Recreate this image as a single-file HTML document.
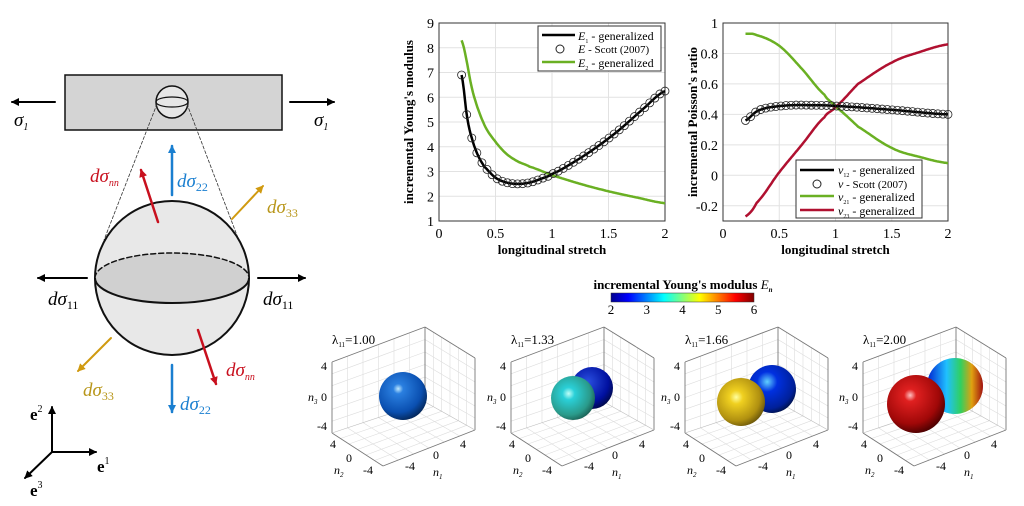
<!DOCTYPE html>
<html><head><meta charset="utf-8"><style>
body{margin:0;background:#fff}
svg{display:block;font-family:"Liberation Serif",serif}
</style></head><body>
<svg id="s" width="1024" height="506" viewBox="0 0 1024 506" xmlns="http://www.w3.org/2000/svg">
<defs>
<marker id="ak" markerWidth="8" markerHeight="8" refX="7" refY="4" orient="auto" markerUnits="userSpaceOnUse"><path d="M0,0 L8,4 L0,8 z" fill="#000"/></marker>
<marker id="ab" markerWidth="8" markerHeight="8" refX="7" refY="4" orient="auto" markerUnits="userSpaceOnUse"><path d="M0,0 L8,4 L0,8 z" fill="#1a7fd0"/></marker>
<marker id="ar" markerWidth="8" markerHeight="8" refX="7" refY="4" orient="auto" markerUnits="userSpaceOnUse"><path d="M0,0 L8,4 L0,8 z" fill="#c8101e"/></marker>
<marker id="ay" markerWidth="8" markerHeight="8" refX="7" refY="4" orient="auto" markerUnits="userSpaceOnUse"><path d="M0,0 L8,4 L0,8 z" fill="#d09a10"/></marker>
<linearGradient id="cb" x1="0" x2="1"><stop offset="0" stop-color="#00008f"/><stop offset="0.12" stop-color="#0000ff"/><stop offset="0.37" stop-color="#00ffff"/><stop offset="0.62" stop-color="#ffff00"/><stop offset="0.87" stop-color="#ff0000"/><stop offset="1" stop-color="#800000"/></linearGradient>
<radialGradient id="g1" cx="0.4" cy="0.35" r="0.7"><stop offset="0" stop-color="#bfe9ff"/><stop offset="0.15" stop-color="#2a7fe0"/><stop offset="0.7" stop-color="#0a4fb0"/><stop offset="1" stop-color="#03224f"/></radialGradient>
<radialGradient id="g2a" cx="0.4" cy="0.4" r="0.7"><stop offset="0" stop-color="#c0fff8"/><stop offset="0.2" stop-color="#2ad0d8"/><stop offset="0.7" stop-color="#2a9a8a"/><stop offset="1" stop-color="#144a40"/></radialGradient>
<radialGradient id="g2b" cx="0.4" cy="0.35" r="0.7"><stop offset="0" stop-color="#2a4fe0"/><stop offset="0.7" stop-color="#0010a0"/><stop offset="1" stop-color="#000840"/></radialGradient>
<radialGradient id="g3a" cx="0.4" cy="0.4" r="0.7"><stop offset="0" stop-color="#ffffa0"/><stop offset="0.2" stop-color="#f0d020"/><stop offset="0.7" stop-color="#b09010"/><stop offset="1" stop-color="#504008"/></radialGradient>
<radialGradient id="g3b" cx="0.4" cy="0.35" r="0.7"><stop offset="0" stop-color="#60d0ff"/><stop offset="0.3" stop-color="#0030e0"/><stop offset="0.8" stop-color="#00209a"/><stop offset="1" stop-color="#001040"/></radialGradient>
<radialGradient id="g4a" cx="0.4" cy="0.35" r="0.7"><stop offset="0" stop-color="#ffc0c0"/><stop offset="0.15" stop-color="#e02020"/><stop offset="0.7" stop-color="#a00808"/><stop offset="1" stop-color="#400000"/></radialGradient>
<linearGradient id="g4b" x1="0" x2="1"><stop offset="0" stop-color="#0020d0"/><stop offset="0.35" stop-color="#20c0ff"/><stop offset="0.6" stop-color="#30d060"/><stop offset="0.8" stop-color="#e0a010"/><stop offset="1" stop-color="#a01010"/></linearGradient>
</defs>
<g id="left" stroke-linecap="round">
<rect x="65" y="75" width="217" height="55" fill="#d4d4d4" stroke="#111" stroke-width="1.5"/>
<circle cx="172" cy="102" r="16" fill="#e6e6e6" stroke="#111" stroke-width="1.5"/>
<ellipse cx="172" cy="102" rx="16" ry="5" fill="none" stroke="#111" stroke-width="1.2"/>
<line x1="55" y1="102" x2="12" y2="102" stroke="#000" stroke-width="2" marker-end="url(#ak)"/>
<line x1="290" y1="102" x2="334" y2="102" stroke="#000" stroke-width="2" marker-end="url(#ak)"/>
<text x="14" y="126" font-size="19" font-style="italic">σ<tspan font-size="10" dy="4">1</tspan></text>
<text x="314" y="126" font-size="19" font-style="italic">σ<tspan font-size="10" dy="4">1</tspan></text>
<line x1="157" y1="104" x2="104" y2="240" stroke="#333" stroke-width="0.8" stroke-dasharray="3,2"/>
<line x1="187" y1="104" x2="238" y2="238" stroke="#333" stroke-width="0.8" stroke-dasharray="3,2"/>
<circle cx="172" cy="278" r="77" fill="#e8e8e8" stroke="#111" stroke-width="2"/>
<path d="M95,278 A77,25 0 0 0 249,278" fill="#d0d0d0" stroke="#111" stroke-width="2"/>
<path d="M95,278 A77,25 0 0 1 249,278" fill="#d0d0d0" stroke="#111" stroke-width="1.5" stroke-dasharray="5,3"/>
<line x1="172" y1="195" x2="172" y2="146" stroke="#1a7fd0" stroke-width="2.5" marker-end="url(#ab)"/>
<line x1="172" y1="365" x2="172" y2="412" stroke="#1a7fd0" stroke-width="2.5" marker-end="url(#ab)"/>
<line x1="158" y1="222" x2="141" y2="170" stroke="#c8101e" stroke-width="2.5" marker-end="url(#ar)"/>
<line x1="198" y1="330" x2="216" y2="384" stroke="#c8101e" stroke-width="2.5" marker-end="url(#ar)"/>
<line x1="232" y1="219" x2="263" y2="186" stroke="#d09a10" stroke-width="2" marker-end="url(#ay)"/>
<line x1="111" y1="338" x2="78" y2="371" stroke="#d09a10" stroke-width="2" marker-end="url(#ay)"/>
<line x1="87" y1="278" x2="38" y2="278" stroke="#000" stroke-width="2" marker-end="url(#ak)"/>
<line x1="258" y1="278" x2="305" y2="278" stroke="#000" stroke-width="2" marker-end="url(#ak)"/>
<text x="90" y="182" font-size="19" font-style="italic" fill="#c8101e">dσ<tspan font-size="10" dy="4">nn</tspan></text>
<text x="177" y="187" font-size="19" font-style="italic" fill="#1a7fd0">dσ<tspan font-size="12" dy="4" font-style="normal">22</tspan></text>
<text x="267" y="213" font-size="19" font-style="italic" fill="#b8961a">dσ<tspan font-size="12" dy="4" font-style="normal">33</tspan></text>
<text x="48" y="305" font-size="19" font-style="italic">dσ<tspan font-size="12" dy="4" font-style="normal">11</tspan></text>
<text x="263" y="305" font-size="19" font-style="italic">dσ<tspan font-size="12" dy="4" font-style="normal">11</tspan></text>
<text x="226" y="376" font-size="19" font-style="italic" fill="#c8101e">dσ<tspan font-size="10" dy="4">nn</tspan></text>
<text x="83" y="396" font-size="19" font-style="italic" fill="#b8961a">dσ<tspan font-size="12" dy="4" font-style="normal">33</tspan></text>
<text x="180" y="410" font-size="19" font-style="italic" fill="#1a7fd0">dσ<tspan font-size="12" dy="4" font-style="normal">22</tspan></text>
<line x1="52" y1="452" x2="52" y2="407" stroke="#000" stroke-width="2" marker-end="url(#ak)"/>
<line x1="52" y1="452" x2="96" y2="452" stroke="#000" stroke-width="2" marker-end="url(#ak)"/>
<line x1="52" y1="452" x2="25" y2="478" stroke="#000" stroke-width="2" marker-end="url(#ak)"/>
<text x="30" y="420" font-size="17" font-weight="bold">e<tspan font-size="10" dy="-8" font-weight="normal">2</tspan></text>
<text x="97" y="472" font-size="17" font-weight="bold">e<tspan font-size="10" dy="-8" font-weight="normal">1</tspan></text>
<text x="30" y="496" font-size="17" font-weight="bold">e<tspan font-size="10" dy="-8" font-weight="normal">3</tspan></text>
</g>
<g id="plots"></g>
<g id="bottom"></g>
</svg>
<script>
const NS="http://www.w3.org/2000/svg";
const P=document.getElementById("plots"), B=document.getElementById("bottom");
function el(p,t,a,txt){const e=document.createElementNS(NS,t);for(const k in a)e.setAttribute(k,a[k]);if(txt!==undefined)e.innerHTML=txt;p.appendChild(e);return e;}
function interp(pts,x){for(let i=0;i<pts.length-1;i++){if(x<=pts[i+1][0]){const[a,b]=pts[i],[c,d]=pts[i+1];
 const p0=pts[Math.max(i-1,0)][1],p3=pts[Math.min(i+2,pts.length-1)][1];const t=(x-a)/(c-a);
 const m1=(d-p0)/2,m2=(p3-b)/2;const t2=t*t,t3=t2*t;return (2*t3-3*t2+1)*b+(t3-2*t2+t)*m1+(-2*t3+3*t2)*d+(t3-t2)*m2;}}return pts[pts.length-1][1];}
function curve(pts,X,Y,col,w){let d="";for(let x=pts[0][0];x<=2.0001;x+=0.01){d+=(d?"L":"M")+X(x).toFixed(1)+","+Y(interp(pts,x)).toFixed(1);}el(P,"path",{d:d,fill:"none",stroke:col,"stroke-width":w});}
function axes(x0,x1,y0,y1,xt,yt,X,Y,yl){
 el(P,"rect",{x:x0,y:y0,width:x1-x0,height:y1-y0,fill:"#fff",stroke:"none"});
 xt.forEach(v=>{el(P,"line",{x1:X(v),x2:X(v),y1:y0,y2:y1,stroke:"#e2e2e2"});el(P,"text",{x:X(v),y:y1+17,"font-size":14,"text-anchor":"middle"},v);});
 yt.forEach(v=>{el(P,"line",{x1:x0,x2:x1,y1:Y(v),y2:Y(v),stroke:"#e2e2e2"});el(P,"text",{x:x0-5,y:Y(v)+5,"font-size":14,"text-anchor":"end"},v);});
 el(P,"rect",{x:x0,y:y0,width:x1-x0,height:y1-y0,fill:"none",stroke:"#333","stroke-width":1});
 el(P,"text",{x:(x0+x1)/2,y:y1+33,"font-size":13,"font-weight":"bold","text-anchor":"middle"},"longitudinal stretch");
 el(P,"text",{x:0,y:0,"font-size":13,"font-weight":"bold","text-anchor":"middle",transform:`translate(${x0-26},${(y0+y1)/2}) rotate(-90)`},yl);
}
let X1=x=>439+113*x, Y1=y=>221-24.75*(y-1);
axes(439,665,23,221,[0,0.5,1,1.5,2],[1,2,3,4,5,6,7,8,9],X1,Y1,"incremental Young's modulus");
const E1=[[0.2,6.9],[0.25,5.15],[0.3,4.2],[0.35,3.6],[0.4,3.2],[0.5,2.75],[0.6,2.55],[0.7,2.5],[0.8,2.55],[0.9,2.7],[1.0,2.9],[1.2,3.4],[1.4,4.0],[1.6,4.7],[1.8,5.5],[2.0,6.25]];
const E2=[[0.2,8.3],[0.3,6.2],[0.4,4.9],[0.5,4.2],[0.6,3.7],[0.7,3.4],[0.8,3.2],[1.0,2.85],[1.25,2.5],[1.5,2.2],[1.75,1.95],[2,1.72]];
curve(E2,X1,Y1,"#6ab023",2.5);curve(E1,X1,Y1,"#000",2.5);
for(let x=0.2;x<=2.001;x+=0.045)el(P,"circle",{cx:X1(x),cy:Y1(interp(E1,x)),r:4,fill:"none",stroke:"#222","stroke-width":0.8});
el(P,"rect",{x:538,y:26,width:123,height:45,fill:"#fff",stroke:"#333"});
el(P,"line",{x1:542,x2:575,y1:35,y2:35,stroke:"#000","stroke-width":2.5});
el(P,"circle",{cx:560,cy:49,r:4,fill:"none",stroke:"#222"});
el(P,"line",{x1:542,x2:575,y1:62,y2:62,stroke:"#6ab023","stroke-width":2.5});
el(P,"text",{x:578,y:40,"font-size":12},'<tspan font-style="italic">E</tspan><tspan font-size="6" dy="3">1</tspan><tspan dy="-3">  - generalized</tspan>');
el(P,"text",{x:578,y:53,"font-size":11},'<tspan font-style="italic" font-size="12">E</tspan>    - Scott (2007)');
el(P,"text",{x:578,y:67,"font-size":12},'<tspan font-style="italic">E</tspan><tspan font-size="6" dy="3">2</tspan><tspan dy="-3">  - generalized</tspan>');
let X2=x=>723+112.5*x, Y2=y=>23+(1-y)*152.3;
axes(723,948,23,221,[0,0.5,1,1.5,2],[-0.2,0,0.2,0.4,0.6,0.8,1],X2,Y2,"incremental Poisson's ratio");
const V12=[[0.2,0.36],[0.3,0.42],[0.4,0.445],[0.6,0.46],[0.8,0.46],[1,0.455],[1.5,0.43],[2,0.40]];
const V21=[[0.2,0.93],[0.3,0.92],[0.5,0.85],[0.7,0.7],[0.9,0.53],[1,0.45],[1.2,0.32],[1.5,0.18],[1.75,0.12],[2,0.08]];
const V23=[[0.2,-0.27],[0.3,-0.18],[0.5,0.02],[0.7,0.2],[0.9,0.38],[1,0.45],[1.2,0.6],[1.5,0.74],[1.75,0.81],[2,0.86]];
curve(V21,X2,Y2,"#6ab023",2.5);curve(V23,X2,Y2,"#b01030",2.5);curve(V12,X2,Y2,"#000",2.5);
for(let x=0.2;x<=2.001;x+=0.045)el(P,"circle",{cx:X2(x),cy:Y2(interp(V12,x)),r:4,fill:"none",stroke:"#222","stroke-width":0.8});
el(P,"rect",{x:796,y:160,width:126,height:58,fill:"#fff",stroke:"#333"});
[["#000",170],[null,184],["#6ab023",196],["#b01030",210]].forEach(([c,y])=>{if(c)el(P,"line",{x1:800,x2:834,y1:y,y2:y,stroke:c,"stroke-width":2.5});else el(P,"circle",{cx:817,cy:y,r:4,fill:"none",stroke:"#222"});});
el(P,"text",{x:838,y:174,"font-size":12},'<tspan font-style="italic">ν</tspan><tspan font-size="6" dy="3">12</tspan><tspan dy="-3"> - generalized</tspan>');
el(P,"text",{x:838,y:188,"font-size":11},'<tspan font-style="italic" font-size="12">ν</tspan>    - Scott (2007)');
el(P,"text",{x:838,y:201,"font-size":12},'<tspan font-style="italic">ν</tspan><tspan font-size="6" dy="3">21</tspan><tspan dy="-3"> - generalized</tspan>');
el(P,"text",{x:838,y:215,"font-size":12},'<tspan font-style="italic">ν</tspan><tspan font-size="6" dy="3">23</tspan><tspan dy="-3"> - generalized</tspan>');
el(B,"text",{x:683,y:289,"font-size":13,"font-weight":"bold","text-anchor":"middle"},'incremental Young\'s modulus <tspan font-style="italic" font-weight="normal">E</tspan><tspan font-size="7" dy="3" font-style="italic">n</tspan>');
el(B,"rect",{x:611,y:293,width:143,height:9,fill:"url(#cb)",stroke:"#333","stroke-width":0.5});
[2,3,4,5,6].forEach((v,i)=>el(B,"text",{x:611+i*35.75,y:314,"font-size":13,"text-anchor":"middle"},v));
const labels=["1.00","1.33","1.66","2.00"];
[0,179,353,531].forEach((dx,k)=>{
 const g=el(B,"g",{transform:`translate(${dx},0)`,"font-size":12});
 const LT=[332,362],BT=[425,327],RT=[475,358],LB=[332,433],FB=[383,466],RB=[475,430],BB=[425,402];
 const L=(a,b,c,w)=>el(g,"line",{x1:a[0],y1:a[1],x2:b[0],y2:b[1],stroke:c||"#888","stroke-width":w||0.6});
 const mix=(a,b,t)=>[a[0]+(b[0]-a[0])*t,a[1]+(b[1]-a[1])*t];
 for(let i=1;i<6;i++){const t=i/6;
  L(mix(LT,BT,t),mix(LB,BB,t),"#ddd");L(mix(LT,LB,t),mix(BT,BB,t),"#ddd");
  L(mix(BT,RT,t),mix(BB,RB,t),"#ddd");L(mix(BT,BB,t),mix(RT,RB,t),"#ddd");
  L(mix(LB,BB,t),mix(FB,RB,t),"#ddd");L(mix(BB,RB,t),mix(LB,FB,t),"#ddd");}
 [[LT,BT],[BT,RT],[LT,LB],[RT,RB],[LB,FB],[FB,RB],[BT,BB]].forEach(([a,b])=>L(a,b,"#777",0.9));
 L(BB,LB,"#bbb");L(BB,RB,"#bbb");
 el(g,"text",{x:332,y:344,"font-size":13},'λ<tspan font-size="7" dy="3">11</tspan><tspan dy="-3">='+labels[k]+'</tspan>');
 el(g,"text",{x:327,y:370,"text-anchor":"end"},"4");el(g,"text",{x:327,y:401,"text-anchor":"end"},"0");el(g,"text",{x:327,y:430,"text-anchor":"end"},"-4");
 el(g,"text",{x:308,y:401,"font-style":"italic"},'n<tspan font-size="7" dy="3">3</tspan>');
 el(g,"text",{x:330,y:448},"4");el(g,"text",{x:346,y:462},"0");el(g,"text",{x:363,y:474},"-4");
 el(g,"text",{x:334,y:474,"font-style":"italic"},'n<tspan font-size="7" dy="3">2</tspan>');
 el(g,"text",{x:405,y:470},"-4");el(g,"text",{x:433,y:459},"0");el(g,"text",{x:460,y:448},"4");
 el(g,"text",{x:433,y:476,"font-style":"italic"},'n<tspan font-size="7" dy="3">1</tspan>');
});
const sp=(cx,cy,r,f)=>el(B,"circle",{cx:cx,cy:cy,r:r,fill:f});
sp(403,396,24,"url(#g1)");
sp(592,388,21,"url(#g2b)");sp(573,398,22,"url(#g2a)");
sp(772,389,24,"url(#g3b)");sp(741,402,24,"url(#g3a)");
sp(955,386,28,"url(#g4b)");sp(916,404,29,"url(#g4a)");
</script>
</body></html>
